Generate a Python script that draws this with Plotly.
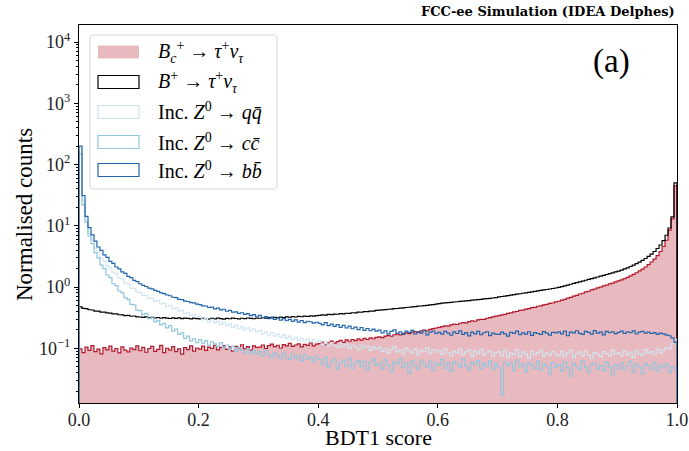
import numpy as np
import plotly.graph_objects as go

# ---------------------------------------------------------------------------
# Normalised BDT1 score distributions, 200 equal bins on [0, 1]
# ---------------------------------------------------------------------------
score_range = (0.0, 1.0)

bc_taunu = [
    0.098, 0.085, 0.104, 0.092, 0.110, 0.088, 0.097, 0.081, 0.102, 0.094, 0.108, 0.090, 0.099, 0.084, 0.105, 0.093, 0.087, 0.101, 0.095, 0.109,
    0.091, 0.103, 0.086, 0.099, 0.107, 0.089, 0.096, 0.111, 0.085, 0.100, 0.093, 0.106, 0.088, 0.098, 0.080, 0.102, 0.095, 0.109, 0.090, 0.101,
    0.097, 0.108, 0.092, 0.104, 0.099, 0.112, 0.094, 0.103, 0.110, 0.096, 0.105, 0.090, 0.107, 0.101, 0.114, 0.098, 0.106, 0.093, 0.109, 0.103,
    0.104, 0.113, 0.099, 0.110, 0.117, 0.106, 0.112, 0.101, 0.115, 0.109, 0.120, 0.107, 0.113, 0.118, 0.105, 0.116, 0.111, 0.122, 0.109, 0.117,
    0.119, 0.126, 0.114, 0.124, 0.131, 0.121, 0.128, 0.134, 0.125, 0.137, 0.130, 0.139, 0.133, 0.142, 0.136, 0.145, 0.139, 0.148, 0.143, 0.150,
    0.153, 0.149, 0.158, 0.162, 0.157, 0.166, 0.170, 0.165, 0.174, 0.178, 0.173, 0.183, 0.187, 0.181, 0.192, 0.197, 0.193, 0.204, 0.209, 0.214,
    0.220, 0.226, 0.232, 0.229, 0.240, 0.247, 0.244, 0.256, 0.262, 0.259, 0.272, 0.279, 0.276, 0.290, 0.297, 0.295, 0.309, 0.317, 0.326, 0.334,
    0.340, 0.351, 0.356, 0.371, 0.377, 0.392, 0.398, 0.414, 0.419, 0.436, 0.442, 0.460, 0.466, 0.485, 0.492, 0.512, 0.520, 0.541, 0.548, 0.570,
    0.585, 0.610, 0.628, 0.660, 0.678, 0.712, 0.732, 0.769, 0.790, 0.830, 0.853, 0.896, 0.921, 0.967, 0.993, 1.044, 1.072, 1.127, 1.158, 1.215,
    1.26, 1.31, 1.37, 1.44, 1.52, 1.61, 1.71, 1.83, 1.96, 2.12, 2.32, 2.56, 2.86, 3.25, 3.8, 4.6, 5.8, 8.5, 13.0, 45.0,
]

bu_taunu = [
    0.472, 0.448, 0.445, 0.425, 0.421, 0.405, 0.404, 0.390, 0.389, 0.377, 0.375, 0.364, 0.363, 0.352, 0.351, 0.342, 0.344, 0.333, 0.336, 0.326,
    0.324, 0.319, 0.325, 0.315, 0.320, 0.312, 0.318, 0.309, 0.316, 0.311, 0.306, 0.314, 0.308, 0.313, 0.304, 0.311, 0.307, 0.302, 0.310, 0.305,
    0.301, 0.309, 0.303, 0.298, 0.307, 0.302, 0.310, 0.304, 0.299, 0.308, 0.303, 0.311, 0.306, 0.301, 0.309, 0.305, 0.312, 0.307, 0.303, 0.311,
    0.309, 0.315, 0.311, 0.318, 0.313, 0.320, 0.316, 0.322, 0.318, 0.326, 0.321, 0.328, 0.324, 0.331, 0.327, 0.334, 0.330, 0.338, 0.335, 0.342,
    0.345, 0.350, 0.348, 0.356, 0.353, 0.361, 0.359, 0.367, 0.365, 0.373, 0.372, 0.380, 0.379, 0.388, 0.387, 0.396, 0.395, 0.405, 0.404, 0.414,
    0.418, 0.424, 0.427, 0.433, 0.436, 0.442, 0.446, 0.452, 0.456, 0.463, 0.467, 0.474, 0.478, 0.486, 0.490, 0.498, 0.503, 0.511, 0.516, 0.525,
    0.537, 0.544, 0.549, 0.557, 0.561, 0.569, 0.574, 0.582, 0.587, 0.595, 0.601, 0.609, 0.615, 0.623, 0.630, 0.638, 0.645, 0.653, 0.661, 0.670,
    0.688, 0.700, 0.712, 0.724, 0.737, 0.750, 0.763, 0.776, 0.790, 0.804, 0.818, 0.833, 0.848, 0.863, 0.879, 0.895, 0.911, 0.928, 0.945, 0.963,
    0.985, 1.015, 1.045, 1.077, 1.110, 1.144, 1.179, 1.215, 1.252, 1.290, 1.330, 1.371, 1.413, 1.457, 1.502, 1.550, 1.600, 1.652, 1.706, 1.762,
    1.82, 1.89, 1.97, 2.06, 2.16, 2.27, 2.40, 2.55, 2.72, 2.92, 3.16, 3.45, 3.80, 4.25, 4.85, 5.7, 7.0, 9.2, 14.0, 50.0,
]

z_qq = [
    180.0, 26.0, 11.8, 7.5, 5.9, 4.3, 3.7, 2.95, 2.68, 2.22, 2.06, 1.74, 1.65, 1.40, 1.36, 1.16, 1.12, 0.96, 0.95, 0.83,
    0.81, 0.73, 0.73, 0.65, 0.66, 0.58, 0.60, 0.53, 0.54, 0.48, 0.50, 0.44, 0.455, 0.405, 0.415, 0.37, 0.38, 0.345, 0.35, 0.32,
    0.33, 0.29, 0.31, 0.27, 0.295, 0.26, 0.275, 0.245, 0.262, 0.232, 0.25, 0.22, 0.238, 0.208, 0.226, 0.20, 0.215, 0.19, 0.205, 0.185,
    0.195, 0.172, 0.186, 0.163, 0.18, 0.158, 0.17, 0.15, 0.165, 0.145, 0.158, 0.138, 0.152, 0.134, 0.147, 0.13, 0.142, 0.127, 0.138, 0.125,
    0.132, 0.115, 0.128, 0.108, 0.124, 0.112, 0.103, 0.121, 0.106, 0.117, 0.099, 0.113, 0.104, 0.094, 0.111, 0.101, 0.108, 0.092, 0.105, 0.098,
    0.104, 0.089, 0.099, 0.083, 0.096, 0.107, 0.087, 0.094, 0.080, 0.101, 0.091, 0.085, 0.098, 0.078, 0.093, 0.088, 0.102, 0.082, 0.095, 0.086,
    0.092, 0.079, 0.097, 0.084, 0.075, 0.090, 0.083, 0.099, 0.077, 0.087, 0.094, 0.073, 0.089, 0.081, 0.096, 0.078, 0.086, 0.091, 0.074, 0.085,
    0.088, 0.076, 0.093, 0.071, 0.084, 0.079, 0.095, 0.073, 0.087, 0.081, 0.069, 0.090, 0.078, 0.085, 0.092, 0.074, 0.083, 0.077, 0.089, 0.080,
    0.076, 0.089, 0.072, 0.083, 0.094, 0.070, 0.081, 0.087, 0.075, 0.091, 0.078, 0.068, 0.085, 0.080, 0.073, 0.088, 0.082, 0.076, 0.093, 0.079,
    0.084, 0.074, 0.090, 0.078, 0.086, 0.071, 0.092, 0.081, 0.077, 0.095, 0.083, 0.088, 0.079, 0.097, 0.085, 0.093, 0.102, 0.098, 0.118, 0.140,
]

z_cc = [
    150.0, 22.0, 11.4, 6.8, 5.1, 3.6, 3.0, 2.28, 2.0, 1.57, 1.42, 1.13, 1.05, 0.86, 0.81, 0.67, 0.63, 0.52, 0.51, 0.42,
    0.41, 0.355, 0.37, 0.305, 0.315, 0.27, 0.285, 0.24, 0.255, 0.215, 0.235, 0.19, 0.205, 0.168, 0.178, 0.145, 0.158, 0.132, 0.143, 0.124,
    0.138, 0.121, 0.133, 0.112, 0.127, 0.118, 0.106, 0.124, 0.101, 0.113, 0.096, 0.108, 0.089, 0.102, 0.093, 0.084, 0.098, 0.081, 0.092, 0.079,
    0.088, 0.074, 0.092, 0.079, 0.070, 0.085, 0.076, 0.068, 0.083, 0.072, 0.065, 0.080, 0.069, 0.075, 0.062, 0.078, 0.067, 0.071, 0.060, 0.074,
    0.066, 0.054, 0.071, 0.049, 0.060, 0.068, 0.045, 0.058, 0.064, 0.051, 0.070, 0.047, 0.057, 0.063, 0.050, 0.061, 0.044, 0.059, 0.067, 0.052,
    0.058, 0.046, 0.065, 0.053, 0.041, 0.060, 0.055, 0.068, 0.048, 0.057, 0.039, 0.062, 0.052, 0.045, 0.064, 0.056, 0.049, 0.061, 0.043, 0.058,
    0.053, 0.066, 0.047, 0.058, 0.042, 0.061, 0.055, 0.049, 0.067, 0.051, 0.044, 0.059, 0.054, 0.063, 0.046, 0.057, 0.050, 0.062, 0.045, 0.056,
    0.048, 0.017, 0.060, 0.052, 0.057, 0.043, 0.064, 0.050, 0.055, 0.041, 0.058, 0.053, 0.047, 0.061, 0.044, 0.056, 0.051, 0.038, 0.059, 0.049,
    0.054, 0.042, 0.060, 0.048, 0.035, 0.057, 0.051, 0.045, 0.062, 0.049, 0.040, 0.055, 0.058, 0.046, 0.052, 0.043, 0.060, 0.050, 0.037, 0.054,
    0.047, 0.058, 0.044, 0.052, 0.061, 0.041, 0.055, 0.049, 0.038, 0.057, 0.051, 0.045, 0.059, 0.042, 0.053, 0.048, 0.056, 0.040, 0.050, 0.046,
]

z_bb = [
    200.0, 31.0, 14.2, 9.3, 7.1, 5.6, 4.5, 3.95, 3.35, 3.05, 2.62, 2.43, 2.12, 1.98, 1.77, 1.67, 1.49, 1.42, 1.28, 1.22,
    1.13, 1.06, 1.02, 0.96, 0.93, 0.88, 0.85, 0.80, 0.78, 0.74, 0.72, 0.68, 0.67, 0.63, 0.62, 0.59, 0.58, 0.555, 0.55, 0.525,
    0.515, 0.492, 0.490, 0.463, 0.470, 0.441, 0.452, 0.422, 0.433, 0.402, 0.414, 0.389, 0.393, 0.371, 0.380, 0.356, 0.368, 0.342, 0.355, 0.333,
    0.345, 0.318, 0.330, 0.305, 0.322, 0.296, 0.312, 0.288, 0.305, 0.281, 0.297, 0.275, 0.290, 0.268, 0.284, 0.262, 0.276, 0.271, 0.258, 0.266,
    0.255, 0.241, 0.262, 0.234, 0.248, 0.228, 0.243, 0.219, 0.236, 0.214, 0.229, 0.208, 0.222, 0.201, 0.218, 0.196, 0.210, 0.193, 0.205, 0.190,
    0.197, 0.178, 0.192, 0.172, 0.188, 0.199, 0.176, 0.185, 0.168, 0.191, 0.180, 0.196, 0.171, 0.186, 0.177, 0.193, 0.165, 0.184, 0.190, 0.174,
    0.182, 0.170, 0.189, 0.176, 0.163, 0.185, 0.174, 0.192, 0.168, 0.180, 0.159, 0.183, 0.172, 0.188, 0.166, 0.179, 0.186, 0.161, 0.177, 0.170,
    0.168, 0.184, 0.172, 0.158, 0.181, 0.175, 0.190, 0.166, 0.178, 0.170, 0.186, 0.162, 0.180, 0.174, 0.169, 0.187, 0.176, 0.164, 0.182, 0.178,
    0.185, 0.172, 0.190, 0.160, 0.183, 0.178, 0.193, 0.175, 0.168, 0.188, 0.181, 0.170, 0.194, 0.176, 0.184, 0.165, 0.189, 0.179, 0.186, 0.173,
    0.182, 0.190, 0.175, 0.186, 0.179, 0.192, 0.171, 0.184, 0.188, 0.176, 0.183, 0.174, 0.180, 0.169, 0.177, 0.172, 0.165, 0.160, 0.148, 0.125,
]

legend_labels = [
    "<i>B</i><sub><i>c</i></sub><sup>+</sup> → <i>τ</i><sup>+</sup><i>ν</i><sub><i>τ</i></sub>",
    "<i>B</i><sup>+</sup> → <i>τ</i><sup>+</sup><i>ν</i><sub><i>τ</i></sub>",
    "Inc. <i>Z</i><sup>0</sup> → <i>qq\u0304</i>",
    "Inc. <i>Z</i><sup>0</sup> → <i>cc\u0304</i>",
    "Inc. <i>Z</i><sup>0</sup> → <i>bb\u0304</i>",
]

x_tick_vals = [0.0, 0.2, 0.4, 0.6, 0.8, 1.0]
x_tick_text = ["0.0", "0.2", "0.4", "0.6", "0.8", "1.0"]
y_tick_vals = [0.1, 1, 10, 100, 1000, 10000]
y_tick_text = ["10<sup>−1</sup>", "10<sup>0</sup>", "10<sup>1</sup>",
               "10<sup>2</sup>", "10<sup>3</sup>", "10<sup>4</sup>"]

# ---------------------------------------------------------------------------
# Styling
# ---------------------------------------------------------------------------
SERIF = "Liberation Serif"
RED = "#b2182b"
RED_FILL = "rgba(178,24,43,0.3)"
BLACK = "#000000"
QQ_COL = "#d1e5f0"
CC_COL = "#92c5de"
BB_COL = "#2166ac"
LW = 1.2

W, H = 689, 451
L, R, T, B = 79, 12, 25, 48
PW, PH = W - L - R, H - T - B


def px(x):
    """Pixel column -> paper x."""
    return (x - L) / PW


def py(y):
    """Pixel row -> paper y."""
    return (H - B - y) / PH


n_bins = len(bc_taunu)
edges = np.linspace(score_range[0], score_range[1], n_bins + 1)
floor = 1e-3  # histogram baseline, below the visible log range


def step_path(vals):
    xs = [edges[0]] + list(edges[:-1]) + [edges[-1], edges[-1]]
    ys = [floor] + list(vals) + [vals[-1], floor]
    return xs, ys


fig = go.Figure()

# filled B_c histogram
fig.add_trace(go.Scatter(x=[edges[0], edges[-1]], y=[floor, floor], mode="lines",
                         line=dict(width=0), hoverinfo="skip"))
xs, ys = step_path(bc_taunu)
fig.add_trace(go.Scatter(x=xs, y=ys, mode="lines", line=dict(shape="hv", width=0),
                         fill="tonexty", fillcolor=RED_FILL, hoverinfo="skip"))
fig.add_trace(go.Scatter(x=xs, y=ys, mode="lines", line=dict(shape="hv", width=LW, color=RED)))

# step outlines
for vals, col in [(bu_taunu, BLACK), (z_qq, QQ_COL), (z_cc, CC_COL), (z_bb, BB_COL)]:
    xs, ys = step_path(vals)
    fig.add_trace(go.Scatter(x=xs, y=ys, mode="lines",
                             line=dict(shape="hv", width=LW, color=col)))

# ---------------------------------------------------------------------------
# Legend drawn as patches + labels
# ---------------------------------------------------------------------------
def rounded_rect(x0, y0, x1, y1, r):
    pts = [
        ("M", [(x0 + r, y0)]), ("L", [(x1 - r, y0)]), ("Q", [(x1, y0), (x1, y0 + r)]),
        ("L", [(x1, y1 - r)]), ("Q", [(x1, y1), (x1 - r, y1)]), ("L", [(x0 + r, y1)]),
        ("Q", [(x0, y1), (x0, y1 - r)]), ("L", [(x0, y0 + r)]), ("Q", [(x0, y0), (x0 + r, y0)]),
    ]
    s = ""
    for cmd, coords in pts:
        s += cmd + " " + " ".join(f"{px(a):.5f},{py(b):.5f}" for a, b in coords) + " "
    return s + "Z"


shapes = [dict(type="path", xref="paper", yref="paper",
               path=rounded_rect(90, 35, 277, 189, 4),
               fillcolor="rgba(255,255,255,0.8)", line=dict(color="#d6d6d6", width=1))]

entry_rows = [52, 82, 112, 142, 170]
patch_styles = [
    dict(fillcolor=RED_FILL, line=dict(width=0)),
    dict(fillcolor="white", line=dict(color=BLACK, width=LW)),
    dict(fillcolor="white", line=dict(color=QQ_COL, width=LW)),
    dict(fillcolor="white", line=dict(color=CC_COL, width=LW)),
    dict(fillcolor="white", line=dict(color=BB_COL, width=LW)),
]
annotations = []
for yc, style, label in zip(entry_rows, patch_styles, legend_labels):
    shapes.append(dict(type="rect", xref="paper", yref="paper",
                       x0=px(98), x1=px(139), y0=py(yc + 6.5), y1=py(yc - 6.5), **style))
    annotations.append(dict(xref="paper", yref="paper", x=px(156), y=py(yc),
                            xanchor="left", yanchor="middle", showarrow=False,
                            text=label, font=dict(family=SERIF, size=20, color="black")))

annotations += [
    dict(xref="paper", yref="paper", x=1.0, y=py(12), xanchor="right", yanchor="middle",
         showarrow=False, text="<b>FCC-ee Simulation (IDEA Delphes)</b>",
         font=dict(family="DejaVu Serif", size=13, color="black")),
    dict(xref="paper", yref="paper", x=px(611), y=py(61), xanchor="center", yanchor="middle",
         showarrow=False, text="(a)", font=dict(family=SERIF, size=33, color="black")),
    dict(xref="paper", yref="paper", x=px(378), y=py(437), xanchor="center", yanchor="middle",
         showarrow=False, text="BDT1 score", font=dict(family=SERIF, size=22, color="black")),
    dict(xref="paper", yref="paper", x=px(24), y=py(215), xanchor="center", yanchor="middle",
         showarrow=False, text="Normalised counts", textangle=-90,
         font=dict(family=SERIF, size=23, color="black")),
]

y_lo, y_hi = -1.894, 4.278
minor_vals = [k * 10.0 ** d for d in range(-2, 5) for k in range(2, 10)
              if 10 ** y_lo <= k * 10.0 ** d <= 10 ** y_hi]

fig.update_layout(
    width=W, height=H,
    margin=dict(l=L, r=R, t=T, b=B, pad=0, autoexpand=False),
    paper_bgcolor="white", plot_bgcolor="white",
    showlegend=False,
    shapes=shapes, annotations=annotations,
    font=dict(family=SERIF, color="black"),
    xaxis=dict(range=[0, 1], tickmode="array", tickvals=x_tick_vals, ticktext=x_tick_text,
               ticks="outside", ticklen=4, tickwidth=1, tickcolor="black",
               tickfont=dict(family=SERIF, size=18, color="#222"), ticklabelstandoff=-4,
               automargin=False,
               showgrid=False, zeroline=False, showline=True, linecolor="black",
               linewidth=1, mirror=True),
    yaxis=dict(type="log", range=[y_lo, y_hi], tickmode="array", tickvals=y_tick_vals,
               ticktext=y_tick_text, ticks="outside", ticklen=4, tickwidth=1, tickcolor="black",
               tickfont=dict(family=SERIF, size=18, color="#222"), automargin=False,
               minor=dict(tickmode="array", tickvals=minor_vals, ticks="outside", ticklen=2,
                          tickwidth=0.8, tickcolor="black", showgrid=False),
               showgrid=False, zeroline=False, showline=True, linecolor="black",
               linewidth=1, mirror=True),
)

fig.write_html("out.html")
